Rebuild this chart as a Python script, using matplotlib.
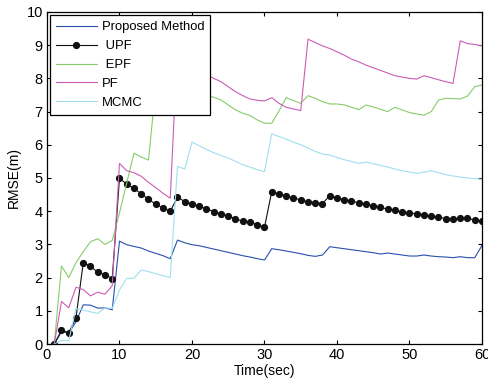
import numpy as np
import matplotlib
matplotlib.use("Agg")
import matplotlib.pyplot as plt

plt.rcParams["font.family"] = ["Liberation Sans", "DejaVu Sans"]

t = np.arange(1, 61)

proposed = [0, 0.37, 0.33, 0.67, 1.18, 1.17, 1.08, 1.09, 1.03, 3.10,
            2.99, 2.94, 2.89, 2.80, 2.73, 2.66, 2.57, 3.13, 3.05, 2.99,
            2.96, 2.91, 2.86, 2.81, 2.76, 2.71, 2.66, 2.62, 2.57, 2.53,
            2.87, 2.84, 2.80, 2.76, 2.72, 2.67, 2.64, 2.68, 2.93, 2.90,
            2.87, 2.84, 2.81, 2.78, 2.75, 2.71, 2.74, 2.71, 2.68, 2.65,
            2.65, 2.68, 2.65, 2.63, 2.62, 2.60, 2.63, 2.60, 2.60, 2.97]

upf = [0, 0.41, 0.34, 0.79, 2.45, 2.34, 2.16, 2.09, 1.97, 5.0,
       4.81, 4.69, 4.52, 4.36, 4.21, 4.10, 4.0, 4.42, 4.29, 4.22,
       4.16, 4.07, 3.99, 3.92, 3.86, 3.77, 3.70, 3.67, 3.59, 3.52,
       4.59, 4.52, 4.46, 4.40, 4.34, 4.28, 4.26, 4.23, 4.47, 4.40,
       4.35, 4.31, 4.25, 4.21, 4.16, 4.12, 4.06, 4.03, 3.98, 3.95,
       3.92, 3.89, 3.85, 3.82, 3.78, 3.76, 3.79, 3.79, 3.73, 3.70]

epf = [0, 2.35, 2.0, 2.45, 2.78, 3.08, 3.17, 3.0, 3.12, 3.95,
       4.85, 5.75, 5.63, 5.54, 7.75, 7.9, 7.8, 7.7, 7.65, 7.6,
       7.55, 7.5, 7.43, 7.35, 7.2, 7.05, 6.95, 6.88, 6.75, 6.65,
       6.65, 7.02, 7.42, 7.33, 7.25, 7.48, 7.4, 7.3, 7.23, 7.23,
       7.2, 7.13, 7.06, 7.2, 7.14, 7.07, 7.0, 7.13, 7.05, 6.97,
       6.93, 6.89, 7.0, 7.35, 7.4, 7.39, 7.38, 7.47, 7.75, 7.8]

pf = [0, 1.28, 1.09, 1.71, 1.64, 1.45, 1.56, 1.5, 1.76, 5.44,
      5.22, 5.16, 5.05, 4.87, 4.71, 4.54, 4.39, 9.0, 8.75, 8.5,
      8.3, 8.12, 8.0, 7.9, 7.75, 7.6, 7.48, 7.38, 7.34, 7.32,
      7.42, 7.25, 7.13, 7.08, 7.03, 9.18, 9.08, 8.98, 8.9, 8.8,
      8.7, 8.58, 8.5, 8.4, 8.32, 8.24, 8.16, 8.08, 8.04, 8.0,
      7.98, 8.08, 8.02, 7.96, 7.9, 7.85, 9.13, 9.05, 9.02, 8.98]

mcmc = [0, 0.1, 0.1, 1.07, 1.02, 0.97, 0.92, 1.09, 1.07, 1.63,
        1.98, 1.98, 2.23, 2.18, 2.12, 2.06, 2.0, 5.35, 5.27, 6.08,
        5.97, 5.86, 5.76, 5.68, 5.6, 5.5, 5.4, 5.33, 5.25, 5.19,
        6.33, 6.25, 6.17, 6.08, 6.0, 5.9, 5.8, 5.72, 5.69, 5.62,
        5.55, 5.5, 5.44, 5.48, 5.43, 5.38, 5.33, 5.27, 5.22, 5.18,
        5.14, 5.17, 5.22, 5.16, 5.1, 5.06, 5.03, 5.0, 4.98, 4.96]

fig = plt.figure(figsize=(4.88, 3.83), dpi=100)
ax = fig.add_axes([0.0963, 0.1018, 0.8914, 0.8669])

ax.plot(t, proposed, color="#2a4fae", lw=0.8, label="Proposed Method")
ax.plot(t, upf, color="#111111", lw=0.8, marker="o", ms=4.2,
        label=" UPF")
ax.plot(t, epf, color="#86cc6a", lw=0.8, label=" EPF")
ax.plot(t, pf, color="#cc5cb6", lw=0.8, label="PF")
ax.plot(t, mcmc, color="#9fdfee", lw=0.8, label="MCMC")

ax.set_xlim(0, 60)
ax.set_ylim(0, 10)
ax.set_xticks(range(0, 61, 10))
ax.set_yticks(range(0, 11))
ax.tick_params(direction="in", top=True, right=True, labelsize=10.5,
               length=3, width=0.8, pad=3)
for s in ax.spines.values():
    s.set_linewidth(0.9)
ax.set_xlabel("Time(sec)", fontsize=10, labelpad=1)
ax.set_ylabel("RMSE(m)", fontsize=10, labelpad=4)

leg = ax.legend(loc="upper left", prop={"size": 9.4}, fancybox=False,
                edgecolor="black", framealpha=1, handlelength=3.1,
                handletextpad=0.4, borderaxespad=0.25, labelspacing=0.52,
                borderpad=0.45)
leg.get_frame().set_linewidth(0.9)

fig.savefig("out.png", dpi=100)
